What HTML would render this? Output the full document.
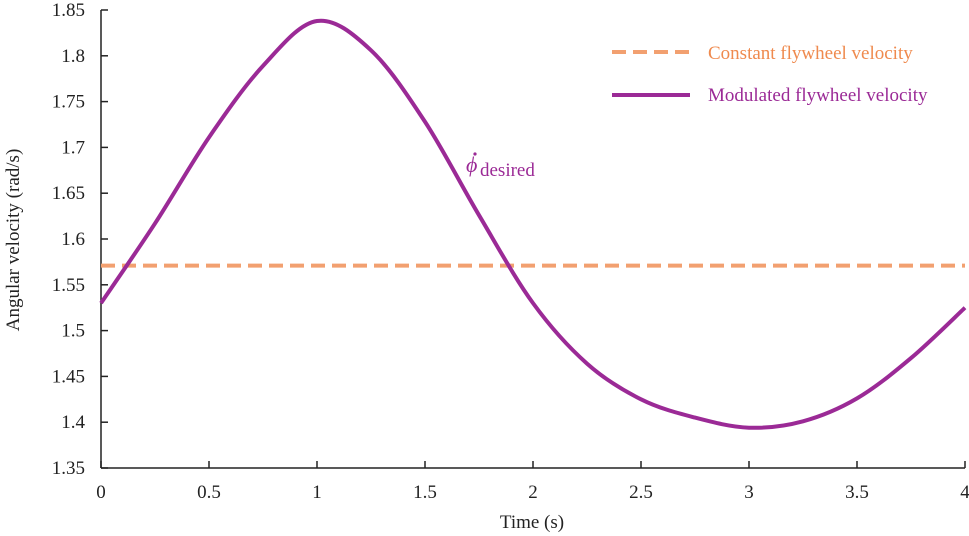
<!DOCTYPE html>
<html><head><meta charset="utf-8"><style>
body{margin:0;background:#fff}
svg{font-family:"Liberation Serif",serif;display:block}
</style></head><body>
<svg width="969" height="536" viewBox="0 0 969 536">
<g id="axes"></g>
<g id="series"></g>
<g>
  <line x1="612" y1="52" x2="690" y2="52" stroke="#F2A070" stroke-width="4" stroke-dasharray="14,7"/>
  <text x="708" y="59" font-size="19" fill="#EF8A4E">Constant flywheel velocity</text>
  <line x1="612" y1="95" x2="690" y2="95" stroke="#9B2A96" stroke-width="4"/>
  <text x="708" y="101" font-size="19" fill="#9B2A96">Modulated flywheel velocity</text>
</g>
<g fill="#9B2A96">
  <text x="466" y="172" font-size="22" font-style="italic">ϕ</text>
  <circle cx="475" cy="154" r="1.6"/>
  <text x="480" y="176" font-size="19">desired</text>
</g>
<text x="532" y="528" font-size="19" text-anchor="middle" fill="#222">Time (s)</text>
<text transform="translate(19,240) rotate(-90)" font-size="19" text-anchor="middle" fill="#222">Angular velocity (rad/s)</text>
</svg>
<script>
const xTicks=[0,0.5,1,1.5,2,2.5,3,3.5,4];
const yTicks=[1.35,1.4,1.45,1.5,1.55,1.6,1.65,1.7,1.75,1.8,1.85];
const times=[0,0.25,0.5,0.75,1,1.25,1.5,1.75,2,2.25,2.5,2.75,3,3.25,3.5,3.75,4];
const modulated=[1.530,1.617,1.711,1.789,1.838,1.806,1.728,1.626,1.530,1.464,1.425,1.405,1.394,1.401,1.426,1.470,1.525];
const constant=[1.571,1.571];
const constantTimes=[0,4];
const X0=101,X1=965,Y0=468,Y1=10;
const sx=v=>X0+(v-0)/(4-0)*(X1-X0);
const sy=v=>Y0-(v-1.35)/(1.85-1.35)*(Y0-Y1);
const NS='http://www.w3.org/2000/svg';
const ax=document.getElementById('axes'),se=document.getElementById('series');
function mk(t,a,p){const e=document.createElementNS(NS,t);for(const k in a)e.setAttribute(k,a[k]);p.appendChild(e);return e;}
const xl=mk('line',{x1:X0,y1:Y0,x2:X1,y2:Y0,stroke:'#222','stroke-width':1.5},ax);


const yl=mk('line',{x1:X0,y1:Y0,x2:X0,y2:Y1,stroke:'#222','stroke-width':1.5},ax);


xTicks.forEach(v=>{
  mk('line',{x1:sx(v),y1:Y0,x2:sx(v),y2:Y0-7,stroke:'#222','stroke-width':1.5},ax);
  const t=mk('text',{x:sx(v),y:Y0+30,'font-size':19,'text-anchor':'middle',fill:'#222'},ax);
  t.textContent=String(v);
  
  
});
yTicks.forEach(v=>{
  mk('line',{x1:X0,y1:sy(v),x2:X0+7,y2:sy(v),stroke:'#222','stroke-width':1.5},ax);
  const t=mk('text',{x:85,y:sy(v)+6,'font-size':19,'text-anchor':'end',fill:'#222'},ax);
  t.textContent=String(v);
  
  
});
const cl=mk('line',{x1:sx(constantTimes[0]),y1:sy(constant[0]),x2:sx(constantTimes[1]),y2:sy(constant[1]),stroke:'#F2A070','stroke-width':4,'stroke-dasharray':'14,7'},se);


const P=times.map((t,i)=>[sx(t),sy(modulated[i])]);
let d='M'+P[0][0]+','+P[0][1];
for(let i=0;i<P.length-1;i++){
  const p0=P[Math.max(0,i-1)],p1=P[i],p2=P[i+1],p3=P[Math.min(P.length-1,i+2)];
  const c1=[p1[0]+(p2[0]-p0[0])/6,p1[1]+(p2[1]-p0[1])/6];
  const c2=[p2[0]-(p3[0]-p1[0])/6,p2[1]-(p3[1]-p1[1])/6];
  d+=' C'+c1+' '+c2+' '+p2;
}
const ml=mk('path',{d:d,fill:'none',stroke:'#9B2A96','stroke-width':4},se);


</script>
</body></html>
